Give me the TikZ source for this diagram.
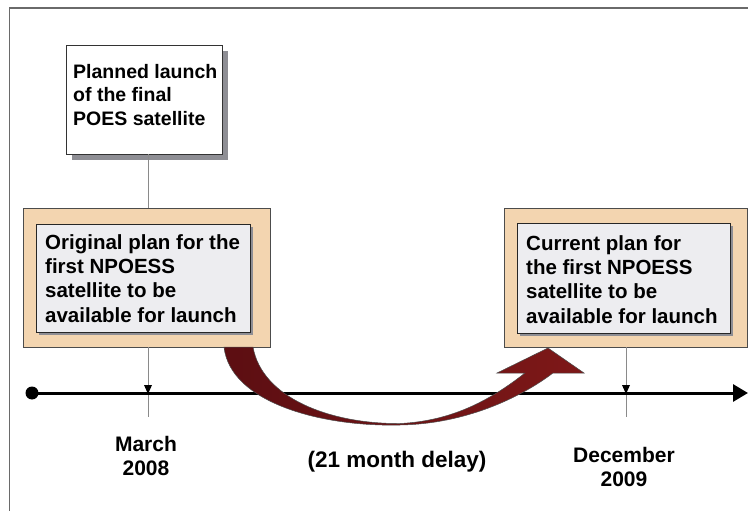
\documentclass[tikz,border=0pt]{standalone}
\usepackage{fontspec}
\setmainfont{Liberation Sans}
\usetikzlibrary{arrows.meta}
\definecolor{peach}{HTML}{F3D5B0}
\definecolor{innergray}{HTML}{EDEDF0}
\definecolor{shadowgray}{HTML}{8E8E94}
\definecolor{darkred}{HTML}{5C0E12}
\definecolor{midred}{HTML}{7E1818}
\definecolor{framegray}{HTML}{6A6A6A}
\definecolor{tickgray}{HTML}{8A8A8A}
\tikzset{
  lbl/.style={font=\fontsize{19.5}{23.5}\selectfont\bfseries, inner sep=0pt},
  boxlbl/.style={font=\fontsize{20.5}{24.2}\selectfont\bfseries, inner sep=0pt},
  datelbl/.style={font=\fontsize{21}{24}\selectfont\bfseries, inner sep=0pt},
  delaylbl/.style={font=\fontsize{22.5}{26}\selectfont\bfseries, inner sep=0pt},
  whitebox/.style={draw=black!80, line width=0.8pt, fill=white},
  outerbox/.style={draw=black!70, line width=0.8pt, fill=peach},
  innerbox/.style={draw=black!85, line width=0.8pt, fill=innergray},
  tickline/.style={draw=tickgray, line width=1pt},
  ticktip/.style={fill=black},
}
\begin{document}
\begin{tikzpicture}[x=1pt,y=-1pt]
\useasboundingbox (0,0) rectangle (748,511);
% frame
\draw[framegray, line width=1.5pt] (9.5,511) -- (9.5,8) -- (748,8);

% POES box with shadow
\fill[shadowgray] (72,51) rectangle (228,160);
\node[whitebox, minimum width=156pt, minimum height=109pt, inner sep=0pt] (poes) at (144,99.5) {};
\node[lbl, align=left, anchor=base west] (poest) at (73,125) {Planned launch\\of the final\\POES satellite};

% left boxes
\node[outerbox, minimum width=247pt, minimum height=139pt, inner sep=0pt] (lorig) at (146.5,277.5) {};
\fill[shadowgray] (39,227) rectangle (253,335);
\node[innerbox, minimum width=214pt, minimum height=108pt, inner sep=0pt] (linner) at (143,278) {};
\node[boxlbl, align=left, anchor=base west] (lt) at (45,322) {Original plan for the\\first NPOESS\\satellite to be\\available for launch};

% right boxes
\node[outerbox, minimum width=243pt, minimum height=139pt, inner sep=0pt] (rcur) at (625.5,277.5) {};
\fill[shadowgray] (520,226) rectangle (733,336);
\node[innerbox, minimum width=213pt, minimum height=110pt, inner sep=0pt] (rinner) at (623.5,278) {};
\node[boxlbl, align=left, anchor=base west] (rt) at (526,323) {Current plan for\\the first NPOESS\\satellite to be\\available for launch};

% connectors
\coordinate (lend) at (148,417);
\coordinate (rend) at (626,417);
\coordinate (pbot) at (poes.south -| lend);
\coordinate (otop) at (lorig.north -| lend);
\coordinate (ltop) at (lorig.south -| lend);
\coordinate (rtop) at (rcur.south -| rend);
\draw[tickline] (pbot) -- (otop);
\draw[tickline] (ltop) -- (lend);
\draw[tickline] (rtop) -- (rend);

% axis
\coordinate (axstart) at (32,393);
\coordinate (axend) at (748,393);
\draw[line width=3pt, -{Triangle[length=15pt,width=17pt]}] (axstart) -- (axend);
\fill (axstart) circle (6.5pt);
\fill[ticktip] (144,385) -- (152,385) -- (148,394) -- cycle;
\fill[ticktip] (622,385) -- (630,385) -- (626,394) -- cycle;

% delay arrow
\shade[left color=darkred, right color=midred, draw=black!70, line width=0.5pt]
  (224,347) .. controls (230,402) and (320,427) .. (400,425)
  .. controls (465,424) and (520,398) .. (553,373)
  -- (584,373) -- (548,348) -- (497,373) -- (525,373)
  .. controls (488,402) and (450,421) .. (400,423.5)
  .. controls (330,424) and (262,398) .. (253,347) -- cycle;

% labels
\node[datelbl, align=center, anchor=base] (march) at (146,475) {March\\2008};
\node[datelbl, align=center, anchor=base] (dec) at (624,486) {December\\2009};
\node[delaylbl, anchor=base] (delay) at (397,467) {(21 month delay)};
\end{tikzpicture}
\end{document}
